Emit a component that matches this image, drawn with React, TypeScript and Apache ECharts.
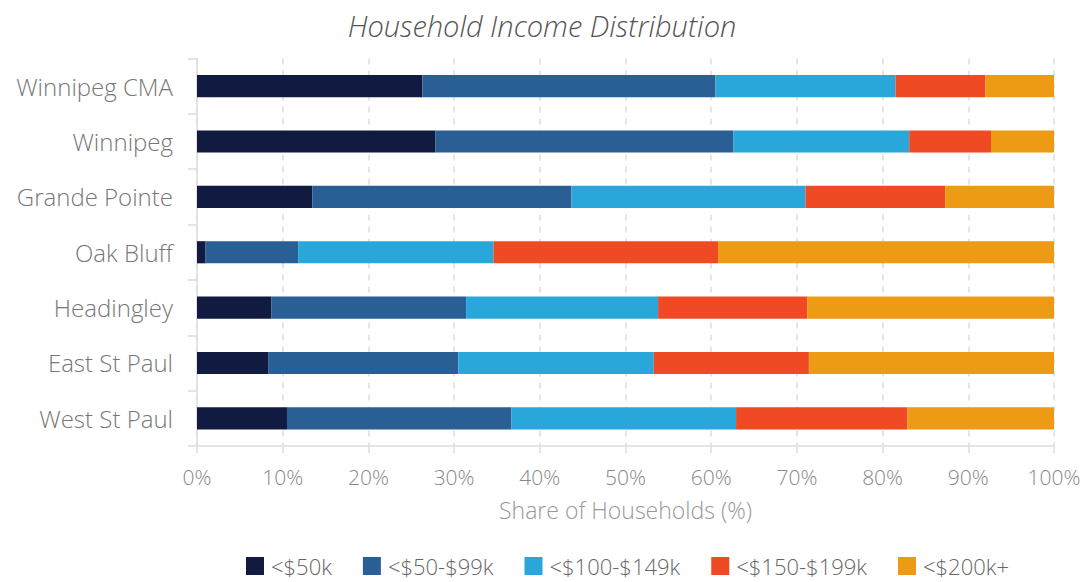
import React, { useEffect, useRef } from "react";
import * as echarts from "echarts";

const categories = [
  "Winnipeg CMA",
  "Winnipeg",
  "Grande Pointe",
  "Oak Bluff",
  "Headingley",
  "East St Paul",
  "West St Paul",
];

const seriesNames = ["<$50k", "<$50-$99k", "<$100-$149k", "<$150-$199k", "<$200k+"];
const colors = ["#111B42", "#2A5F96", "#2AA7DA", "#EF4A24", "#ED9A14"];

const under50 = [26.3, 27.8, 13.45, 1.0, 8.7, 8.3, 10.5];
const from50to99 = [34.2, 34.8, 30.25, 10.8, 22.7, 22.2, 26.2];
const from100to149 = [21.0, 20.5, 27.3, 22.8, 22.4, 22.8, 26.2];
const from150to199 = [10.5, 9.55, 16.3, 26.2, 17.4, 18.1, 20.0];
const over200 = [8.0, 7.35, 12.7, 39.2, 28.8, 28.6, 17.1];

const seriesData = [under50, from50to99, from100to149, from150to199, over200];

const FONT = "'Open Sans', sans-serif";

export default function App() {
  const ref = useRef<HTMLDivElement>(null);
  useEffect(() => {
    if (!ref.current) return;
    const chart = echarts.init(ref.current, null, { renderer: "svg" });
    chart.setOption({
      animation: false,
      title: {
        text: "Household Income Distribution",
        left: 537,
        textAlign: "center",
        top: 6,
        textStyle: {
          fontFamily: FONT,
          fontStyle: "italic",
          fontWeight: 300,
          fontSize: 29,
          color: "#555555",
        },
      },
      legend: {
        data: seriesNames,
        left: 241,
        top: 550,
        itemWidth: 18,
        itemHeight: 18,
        itemGap: 31,
        icon: "rect",
        textStyle: {
          fontFamily: FONT,
          fontWeight: 300,
          fontSize: 22,
          lineHeight: 22,
          color: "#666666",
          padding: [0, 0, 0, 2],
        },
      },
      grid: { left: 197, right: 32, top: 58.5, height: 387.5, containLabel: false },
      xAxis: {
        type: "value",
        min: 0,
        max: 100,
        interval: 10,
        name: "Share of Households (%)",
        nameLocation: "middle",
        nameGap: 52,
        nameTextStyle: { fontFamily: FONT, fontWeight: 300, fontSize: 23, color: "#999999" },
        axisLine: { show: true, lineStyle: { color: "#dddddd", width: 1.5 } },
        axisTick: { show: true, length: 7, lineStyle: { color: "#dddddd", width: 1.5 } },
        axisLabel: {
          formatter: "{value}%",
          fontFamily: FONT,
          fontWeight: 300,
          fontSize: 21,
          color: "#888888",
          margin: 20,
        },
        splitLine: { show: true, lineStyle: { color: "#dddddd", type: [6, 6], width: 1.5 } },
      },
      yAxis: {
        type: "category",
        data: categories,
        inverse: true,
        axisLine: { show: true, lineStyle: { color: "#dddddd", width: 1.5 } },
        axisTick: { show: true, length: 9, lineStyle: { color: "#dddddd", width: 1.5 } },
        axisLabel: { fontFamily: FONT, fontWeight: 300, fontSize: 24, color: "#777777", margin: 24 },
      },
      series: seriesNames.map((name, i) => ({
        name,
        type: "bar",
        stack: "total",
        data: seriesData[i],
        barWidth: "40%",
        itemStyle: { color: colors[i] },
      })),
    });
    return () => chart.dispose();
  }, []);
  return (
    <div
      ref={ref}
      style={{ position: "absolute", left: 0, top: 0, width: 1086, height: 582 }}
    />
  );
}
